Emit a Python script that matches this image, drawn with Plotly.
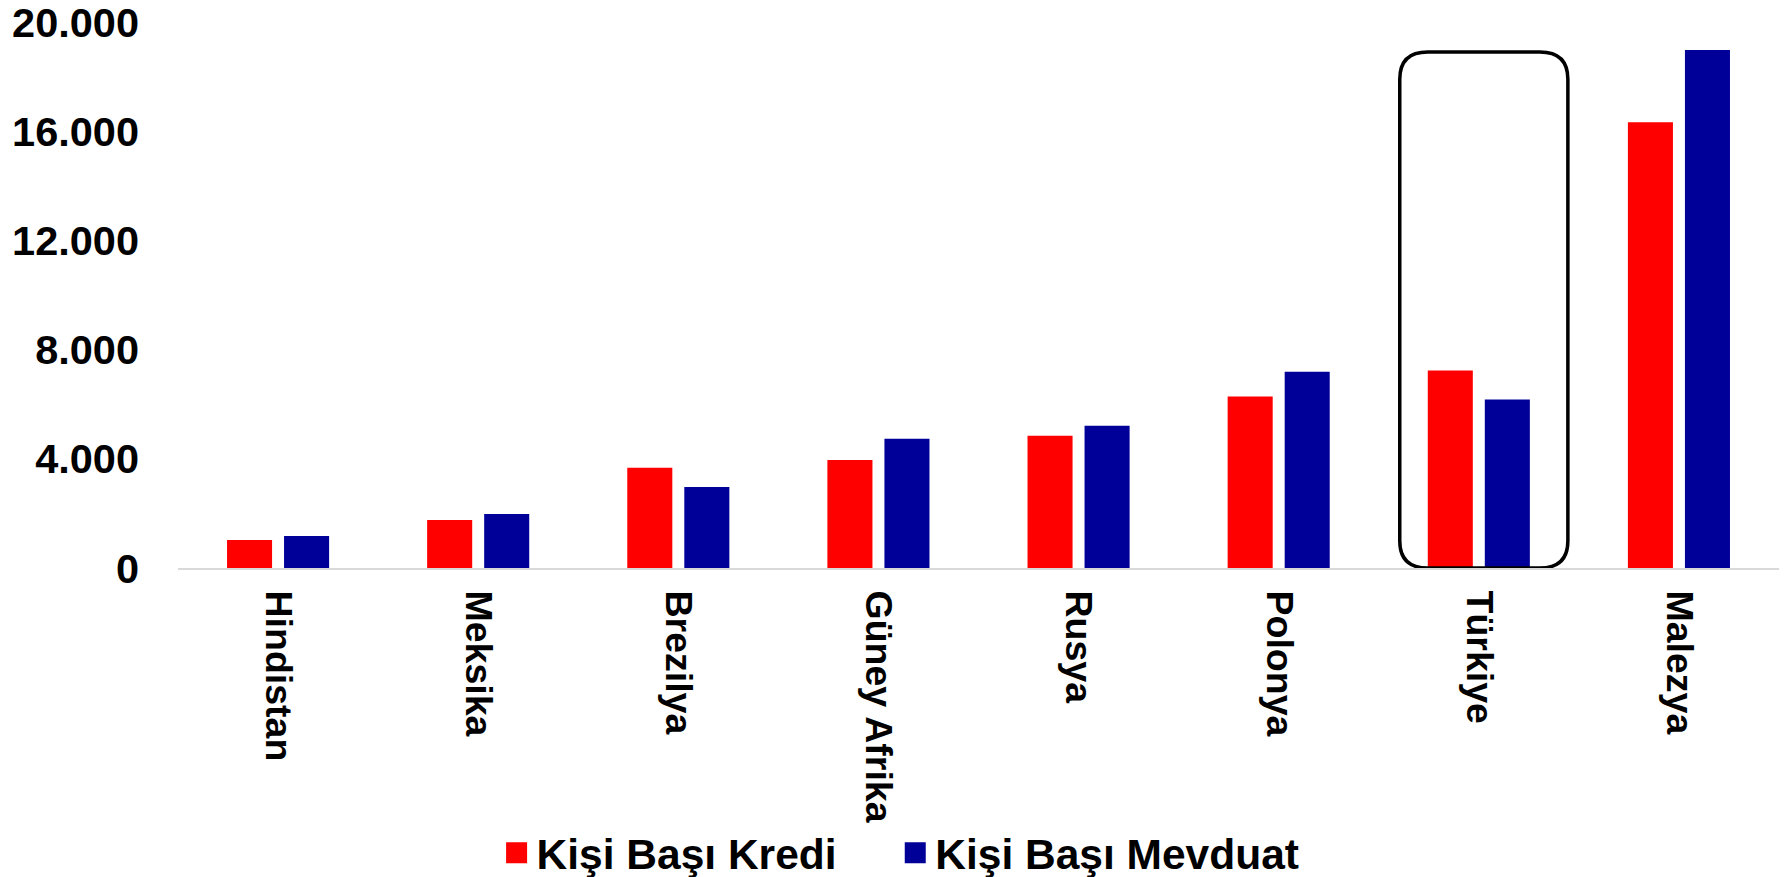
import plotly.graph_objects as go

categories = ["Hindistan", "Meksika", "Brezilya", "Güney Afrika", "Rusya", "Polonya", "Türkiye", "Malezya"]
kredi = [1030, 1760, 3670, 3960, 4840, 6280, 7230, 16330]
mevduat = [1170, 1980, 2970, 4730, 5210, 7190, 6170, 18970]
y_ticks = [0, 4000, 8000, 12000, 16000, 20000]
y_tick_labels = [f"{v:,}".replace(",", ".") for v in y_ticks]

FONT = "Liberation Sans, Arial, sans-serif"
RED = "#FF0000"
BLUE = "#000099"
x_idx = list(range(len(categories)))

fig = go.Figure()
fig.add_trace(go.Bar(x=x_idx, y=kredi, name="Kişi Başı Kredi", showlegend=False,
                     marker=dict(color=RED, line=dict(width=0))))
fig.add_trace(go.Bar(x=x_idx, y=mevduat, name="Kişi Başı Mevduat", showlegend=False,
                     marker=dict(color=BLUE, line=dict(width=0))))
# legend entries with larger square swatches, one legend each
for name, col, lg in [("Kişi Başı Kredi", RED, "legend"), ("Kişi Başı Mevduat", BLUE, "legend2")]:
    fig.add_trace(go.Scatter(x=[None], y=[None], mode="markers", name=name, legend=lg,
                             marker=dict(symbol="square", size=16, color=col,
                                         line=dict(color=col, width=6))))

# rounded highlight box around Türkiye
ti = categories.index("Türkiye")
x0, x1 = ti - 0.395, ti + 0.445
y0, y1 = 0, 18900
rx, ry = 0.14, 1000
path = (f"M {x0+rx},{y0} L {x1-rx},{y0} Q {x1},{y0} {x1},{y0+ry} "
        f"L {x1},{y1-ry} Q {x1},{y1} {x1-rx},{y1} L {x0+rx},{y1} "
        f"Q {x0},{y1} {x0},{y1-ry} L {x0},{y0+ry} Q {x0},{y0} {x0+rx},{y0} Z")
fig.add_shape(type="path", path=path, xref="x", yref="y",
              line=dict(color="black", width=3.5), layer="above")

legend_common = dict(orientation="h", xanchor="left", y=-0.522, yanchor="middle",
                     font=dict(family=FONT, size=42.5, color="black", weight="bold"),
                     itemsizing="trace", itemwidth=30, bgcolor="rgba(0,0,0,0)")

fig.update_layout(
    width=1787, height=877,
    margin=dict(l=178, r=8, t=22, b=309, autoexpand=False),
    paper_bgcolor="white", plot_bgcolor="white",
    barmode="group", bargap=0.43, bargroupgap=0.21,
    font=dict(family=FONT, size=38, color="black", weight="bold"),
    showlegend=True,
    legend=dict(x=0.199, **legend_common),
    legend2=dict(x=0.448, **legend_common),
    xaxis=dict(range=[-0.5, len(categories) - 0.5], tickvals=x_idx, ticktext=categories,
               tickangle=90, showgrid=False, zeroline=False, showline=True,
               linecolor="#D9D9D9", linewidth=2, ticks="", ticklabelstandoff=13,
               automargin=False,
               tickfont=dict(family=FONT, size=37.5, color="black", weight="bold")),
    yaxis=dict(range=[0, 20000], tickvals=y_ticks, ticktext=y_tick_labels,
               showgrid=False, zeroline=False, showline=False, ticks="",
               ticklabelstandoff=38, automargin=False, ticklabeloverflow="allow",
               tickfont=dict(family=FONT, size=41.5, color="black", weight="bold")),
)

fig.write_html("out.html", config={"displayModeBar": False},
               post_script="document.body.style.margin='0';document.body.style.overflow='hidden';")
